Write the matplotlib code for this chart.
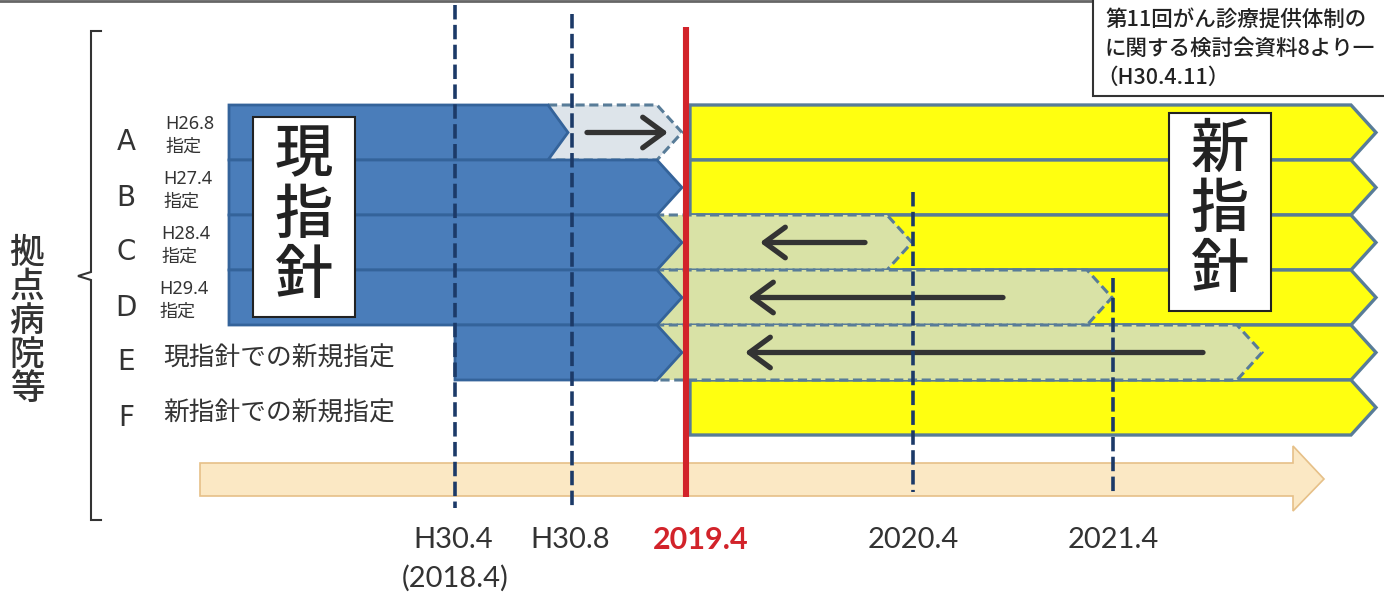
import matplotlib
matplotlib.use("Agg")
import matplotlib.pyplot as plt
from matplotlib.patches import Polygon, Rectangle, FancyArrowPatch

plt.rcParams['font.family'] = ['Noto Sans CJK JP', 'DejaVu Sans']

# ---------------- data ----------------
rows = ['A', 'B', 'C', 'D', 'E', 'F']
row_notes = ['H26.8\n指定', 'H27.4\n指定', 'H28.4\n指定', 'H29.4\n指定',
             '現指針での新規指定', '新指針での新規指定']
tick_labels = ['H30.4', 'H30.8', '2019.4', '2020.4', '2021.4']
tick_sub = '(2018.4)'
# positions of the milestones on the drawn time line
tick_x = [455, 572, 686, 913, 1113]
# current-guideline designation (blue): start / end on the time line
cur_start = [229, 229, 229, 229, 455, None]
cur_end = [568, 682, 682, 682, 682, None]
# transition (grace) period: start / end on the time line
ext_start = [548, None, 655, 655, 655, None]
ext_end = [682, None, 912, 1112, 1262, None]
# arrows inside the transition bars (tail -> head)
arr_tail = [587, None, 865, 1003, 1203, None]
arr_head = [668, None, 760, 748, 745, None]
# new guideline (yellow)
new_start = 690
new_end = 1376
side_label = '拠点病院等'
cur_title = '現指針'
new_title = '新指針'
source_lines = ['第11回がん診療提供体制の', 'に関する検討会資料8より一', '（H30.4.11）']

# ---------------- styles ----------------
BLUE = '#4a7dba'
BLUE_EDGE = '#34639a'
YELLOW = '#ffff10'
GREEN = '#d9e2a6'
LIGHT = '#dde4ea'
BORDER = '#587c98'
NAVY = '#1c3a68'
RED = '#d2232a'
TXT = '#333333'

row_top0 = 105
row_h = 55
tip_d = 25

fig = plt.figure(figsize=(13.84, 5.92), dpi=100)
ax = fig.add_axes([0, 0, 1, 1])
ax.set_xlim(0, 1384)
ax.set_ylim(592, 0)
ax.axis('off')


def chevron(x0, x1, top, bot, d=tip_d):
    mid = (top + bot) / 2
    return [(x0, top), (x1 - d, top), (x1, mid), (x1 - d, bot), (x0, bot)]


# time arrow (beige)
ax.add_patch(Polygon([(200, 463), (1293, 463), (1293, 446), (1324, 479),
                      (1293, 511), (1293, 496), (200, 496)], closed=True,
                     facecolor='#fbe8c4', edgecolor='#e6c088', lw=1.2, zorder=1))

for i in range(len(rows)):
    top = row_top0 + i * row_h
    bot = top + row_h
    # new guideline
    ax.add_patch(Polygon(chevron(new_start, new_end, top, bot), closed=True,
                         facecolor=YELLOW, edgecolor=BORDER, lw=2.4, zorder=2))
    # transition period
    if ext_end[i] is not None:
        fc = LIGHT if i == 0 else GREEN
        ax.add_patch(Polygon(chevron(ext_start[i], ext_end[i], top, bot), closed=True,
                             facecolor=fc, edgecolor=BORDER, lw=2.2,
                             linestyle=(0, (3, 1.5)), zorder=3))
    # current guideline
    if cur_end[i] is not None:
        d = 20 if i == 0 else tip_d
        ax.add_patch(Polygon(chevron(cur_start[i], cur_end[i], top, bot, d), closed=True,
                             facecolor=BLUE, edgecolor=BLUE_EDGE, lw=2.0, zorder=4))
    # arrows
    if arr_tail[i] is not None:
        yc = (top + bot) / 2
        ax.add_patch(FancyArrowPatch((arr_tail[i], yc), (arr_head[i], yc),
                                     arrowstyle='->,head_length=0.75,head_width=0.55',
                                     mutation_scale=20, lw=3.8, color=TXT,
                                     shrinkA=0, shrinkB=0, zorder=6))
    # row labels
    ax.text(126, top + row_h / 2 + 10, rows[i], fontsize=20, color=TXT,
            ha='center', va='center', family=['DejaVu Sans'])
    if i < 4:
        l1, l2 = row_notes[i].split('\n')
        ax.text(165 - i * 2, top + 19, l1, fontsize=13, color=TXT,
                ha='left', va='center', family=['Noto Sans', 'DejaVu Sans'])
        ax.text(165 - i * 2, top + 42, l2, fontsize=13, color=TXT,
                ha='left', va='center')
    else:
        ax.text(163, top + row_h / 2 + 6, row_notes[i], fontsize=18.5, color=TXT,
                ha='left', va='center')

# title boxes
ax.add_patch(Rectangle((253, 117), 102, 200, facecolor='white', edgecolor='#222222',
                       lw=1.5, zorder=7))
for k, ch in enumerate(cur_title):
    ax.text(304, 156 + k * 60, ch, fontsize=42, color='#222222', ha='center',
            va='center', fontweight='medium', zorder=8)
ax.add_patch(Rectangle((1169, 113), 102, 198, facecolor='white', edgecolor='#222222',
                       lw=1.5, zorder=7))
for k, ch in enumerate(new_title):
    ax.text(1220, 150 + k * 60, ch, fontsize=42, color='#222222', ha='center',
            va='center', fontweight='medium', zorder=8)

# vertical milestone lines
dash_tops = [5, 14, None, 192, 278]
dash_bots = [508, 508, None, 492, 495]
for i, x in enumerate(tick_x):
    if dash_tops[i] is None:
        continue
    ax.plot([x, x], [dash_tops[i], dash_bots[i]], color=NAVY, lw=2.6,
            linestyle=(0, (4, 1.5)), zorder=9)
ax.plot([tick_x[2], tick_x[2]], [27, 497], color=RED, lw=4.4, zorder=10,
        solid_capstyle='butt')

# tick labels
tick_offsets = [-2, -2, 15, 0, 0]
for i, lab in enumerate(tick_labels):
    is_key = (i == 2)
    ax.text(tick_x[i] + tick_offsets[i], 540, lab, fontsize=22 if is_key else 21,
            color=RED if is_key else TXT, fontweight='bold' if is_key else 'normal',
            ha='center', va='center', family=['Lato', 'DejaVu Sans'])
ax.text(tick_x[0], 578, tick_sub, fontsize=21, color=TXT, ha='center', va='center',
        family=['Lato', 'DejaVu Sans'])

# left bracket
ax.plot([101, 91, 91, 78, 91, 91, 101], [31, 31, 272, 276, 280, 520, 520],
        color='#333333', lw=1.5, solid_joinstyle='miter')
for k, ch in enumerate(side_label):
    ax.text(27, 253 + k * 34, ch, fontsize=25, color=TXT, ha='center', va='center',
            fontweight='medium')

# top rule and source box
ax.plot([0, 1093], [1, 1], color='#666666', lw=2)
ax.add_patch(Rectangle((1093, -3), 300, 99, facecolor='white', edgecolor='#333333',
                       lw=1.5, zorder=7))
for k, line in enumerate(source_lines):
    ax.text(1105 if k < 2 else 1096, 20 + k * 29, line, fontsize=15.5, color='#222222',
            ha='left', va='center', zorder=8, fontweight='medium')

fig.savefig('out.png', dpi=100)
